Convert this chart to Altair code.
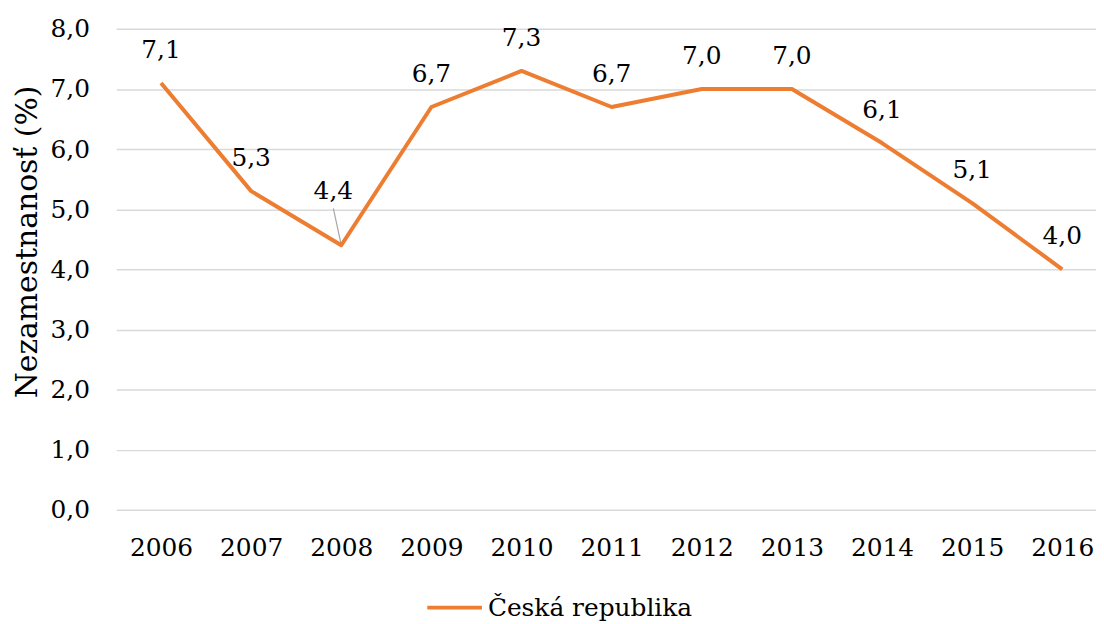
import altair as alt
import pandas as pd

years = ["2006", "2007", "2008", "2009", "2010", "2011", "2012", "2013", "2014", "2015", "2016"]
values = [7.1, 5.3, 4.4, 6.7, 7.3, 6.7, 7.0, 7.0, 6.1, 5.1, 4.0]
series = "Česká republika"
y_ticks = [0, 1, 2, 3, 4, 5, 6, 7, 8]

df = pd.DataFrame({"year": years, "value": values, "series": [series] * len(years)})

FONT = "DejaVu Serif"
FS = 25
ORANGE = "#ED7D31"

x_enc = alt.X("year:O", title=None,
              scale=alt.Scale(type="point", padding=0.4355, align=0.57),
              axis=alt.Axis(labelAngle=0, ticks=False, domain=False, grid=False,
                            labelFont=FONT, labelFontSize=FS, labelColor="black",
                            labelPadding=26))
y_enc = alt.Y("value:Q", title="Nezamestnanosť (%)",
              scale=alt.Scale(domain=[0, 8], nice=False),
              axis=alt.Axis(values=y_ticks, ticks=False, domain=False,
                            labelExpr="replace(format(datum.value, '.1f'), '.', ',')",
                            labelFont=FONT, labelFontSize=FS, labelColor="black",
                            labelPadding=27, gridColor="#d9d9d9", gridWidth=1.5,
                            titleFont=FONT, titleFontSize=30, titleFontWeight="normal",
                            titleColor="black", titleX=-74, titleY=214,
                            titleAngle=270, titleAlign="center", titleBaseline="bottom"))

base = alt.Chart(df).encode(x=x_enc, y=y_enc)

line = base.mark_line(strokeWidth=4, strokeJoin="round").encode(
    color=alt.Color("series:N", title=None,
                    scale=alt.Scale(domain=[series], range=[ORANGE]),
                    legend=alt.Legend(orient="none", legendX=311, legendY=553,
                                      symbolType="stroke", symbolSize=3025,
                                      symbolStrokeWidth=4, labelFont=FONT,
                                      labelFontSize=FS, labelColor="black",
                                      labelLimit=600, labelOffset=4, padding=0))
)

labels_main = base.transform_filter(alt.datum.year != "2008").transform_calculate(
    label="replace(format(datum.value, '.1f'), '.', ',')"
).mark_text(font=FONT, fontSize=FS, color="black", baseline="alphabetic", dy=-25).encode(
    text="label:N")

labels_2008 = base.transform_filter(alt.datum.year == "2008").transform_calculate(
    label="replace(format(datum.value, '.1f'), '.', ',')"
).mark_text(font=FONT, fontSize=FS, color="black", baseline="alphabetic", dy=-47, dx=-8).encode(
    text="label:N")

leader = base.transform_filter(alt.datum.year == "2008").mark_rule(
    color="#a6a6a6", strokeWidth=1.2, x2Offset=-8, y2Offset=-37
).encode(x2="year:O", y2="value:Q")

chart = alt.layer(leader, line, labels_main, labels_2008).properties(
    width=986, height=484,
    background="white",
    autosize=alt.AutoSizeParams(type="none"),
    padding={"left": 109, "top": 19, "right": 0, "bottom": 110},
).configure_view(stroke="transparent", strokeWidth=0)

chart.save("out.html", embed_options={"renderer": "svg", "actions": False})
